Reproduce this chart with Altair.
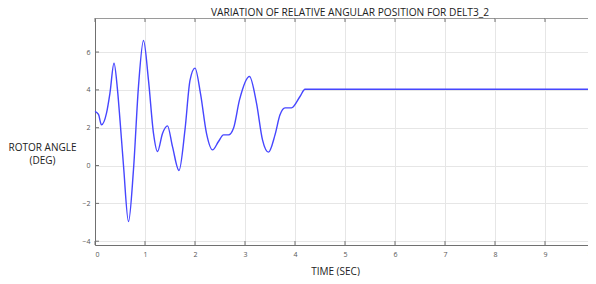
import altair as alt
import pandas as pd

time_s = [0.00, 0.07, 0.13, 0.23, 0.30, 0.38, 0.45, 0.50, 0.57, 0.67, 0.77, 0.87, 0.97,
          1.07, 1.17, 1.25, 1.35, 1.45, 1.55, 1.68, 1.80, 1.90, 2.00, 2.11, 2.23, 2.35,
          2.47, 2.57, 2.67, 2.77, 2.89, 3.09, 3.23, 3.35, 3.47, 3.60, 3.70, 3.80, 3.93,
          4.10, 4.20, 10.0]
angle_deg = [2.86, 2.70, 2.15, 2.77, 3.85, 5.41, 4.00, 2.40, 0.00, -2.96, -0.20, 4.20, 6.61,
             4.50, 1.70, 0.74, 1.70, 2.10, 1.00, -0.26, 1.90, 4.50, 5.15, 3.80, 1.70, 0.83,
             1.27, 1.62, 1.62, 1.97, 3.47, 4.71, 3.30, 1.36, 0.71, 1.62, 2.68, 3.05, 3.05,
             3.65, 4.03, 4.03]
x_ticks = [0, 1, 2, 3, 4, 5, 6, 7, 8, 9, 10]
y_ticks = [-4, -2, 0, 2, 4, 6]
chart_title = ["VARIATION OF RELATIVE ANGULAR POSITION FOR DELT3_2"]

W, H = 500, 227
df = pd.DataFrame({"t": time_s, "v": angle_deg})
xt = pd.DataFrame({"x": x_ticks})
yt = pd.DataFrame({"y": y_ticks})
tt = pd.DataFrame({"title": chart_title})

xs = alt.Scale(domain=[0, 10], nice=False)
ys = alt.Scale(domain=[-4.2, 7.8], nice=False)

FONT = "Open Sans"

line = alt.Chart(df).mark_line(color="#4646ff", strokeWidth=1.4, interpolate="monotone").encode(
    x=alt.X("t:Q", scale=xs, axis=alt.Axis(
        values=x_ticks, title="TIME (SEC)", grid=True, gridColor="#e6e6e6",
        tickSize=0, labelPadding=5, labelFontSize=7, labelColor="#555555",
        domainColor="#707070", titleFont=FONT, titleFontSize=10, titleFontWeight="normal",
        titleColor="#222222", titleX=240, titleY=29, titleBaseline="alphabetic",
        titleAnchor="start", titleAlign="center")),
    y=alt.Y("v:Q", scale=ys, axis=alt.Axis(
        values=y_ticks, title=["ROTOR ANGLE", "(DEG)"], grid=True, gridColor="#e6e6e6",
        tickSize=0, labelPadding=5, labelFontSize=7, labelColor="#555555",
        domainColor="#707070", titleFont=FONT, titleFontSize=10, titleFontWeight="normal",
        titleColor="#222222", titleAngle=0, titleX=-53, titleY=132,
        titleBaseline="alphabetic", titleAlign="center", titleLineHeight=13)),
)

title_text = alt.Chart(tt).mark_text(
    font=FONT, fontSize=10.2, color="#222222", align="center", baseline="alphabetic"
).encode(x=alt.value(W / 2 + 5), y=alt.value(-2), text="title:N")

tick_len = 4
top_ticks = alt.Chart(xt).mark_rule(color="#707070").encode(
    x=alt.X("x:Q", scale=xs), y=alt.value(0), y2=alt.value(tick_len))
bot_ticks = alt.Chart(xt).mark_rule(color="#707070").encode(
    x=alt.X("x:Q", scale=xs), y=alt.value(H - tick_len), y2=alt.value(H))
left_ticks = alt.Chart(yt).mark_rule(color="#707070").encode(
    y=alt.Y("y:Q", scale=ys), x=alt.value(0), x2=alt.value(tick_len))
right_ticks = alt.Chart(yt).mark_rule(color="#707070").encode(
    y=alt.Y("y:Q", scale=ys), x=alt.value(W - tick_len), x2=alt.value(W))

chart = alt.layer(line, top_ticks, bot_ticks, left_ticks, right_ticks, title_text).properties(
    width=W, height=H,
    autosize=alt.AutoSizeParams(type="none"),
    padding={"left": 87, "top": 10, "right": -7, "bottom": 31},
).configure_view(stroke="#9a9a9a", strokeWidth=1).configure_axis(labelFont=FONT)

chart.save("out.html", embed_options={"renderer": "svg", "actions": False})
